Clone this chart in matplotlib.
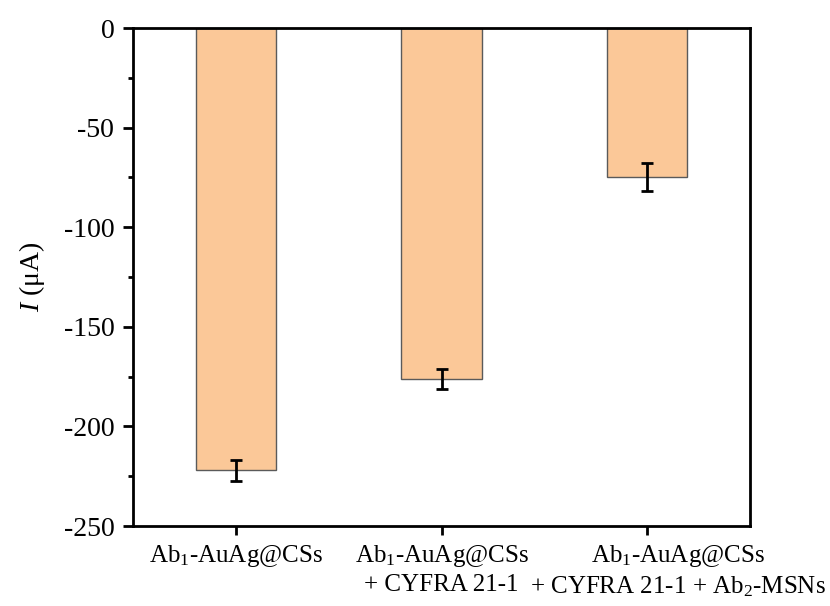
import numpy as np
import matplotlib
matplotlib.use("Agg")
import matplotlib.pyplot as plt
from matplotlib.ticker import MultipleLocator
from matplotlib.transforms import ScaledTranslation

plt.rcParams['font.family'] = ['Liberation Serif', 'DejaVu Serif']
plt.rcParams['mathtext.fontset'] = 'custom'
plt.rcParams['mathtext.rm'] = 'Liberation Serif'
plt.rcParams['mathtext.it'] = 'Liberation Serif:italic'
plt.rcParams['axes.unicode_minus'] = False

# data
labels = ['Ab$_1$-AuAg@CSs',
          'Ab$_1$-AuAg@CSs\n+ CYFRA 21-1',
          'Ab$_1$-AuAg@CSs\n+ CYFRA 21-1 + Ab$_2$-MSNs']
current = [-222, -176, -75]
err = [5.3, 5, 7]

fig = plt.figure(figsize=(8.3, 6.06), dpi=100)
ax = fig.add_axes([133/830, 1 - 526/606, 617/830, 498/606])

x = np.arange(len(labels))
ax.bar(x, current, width=0.39, color='#FBC898', edgecolor='#5a5a5a', linewidth=1.0, zorder=2)
ax.errorbar(x, current, yerr=err, fmt='none', ecolor='black', elinewidth=2,
            capsize=4.5, capthick=2, zorder=3)

ax.set_xlim(-0.5, 2.5)
ax.set_ylim(-250, 0)
ax.set_xticks(x)
ax.set_xticklabels(labels, fontsize=18, linespacing=1.25)
ax.yaxis.set_major_locator(MultipleLocator(50))
ax.yaxis.set_minor_locator(MultipleLocator(25))
ax.tick_params(axis='y', which='major', labelsize=20, length=7.5, width=2, direction='out', pad=6)
ax.tick_params(axis='y', which='minor', length=3.5, width=2, direction='out')
ax.tick_params(axis='x', which='major', length=6.5, width=2, direction='out', pad=6)
ax.set_ylabel('$I$ (μA)', fontsize=20, labelpad=12)

# third label sits to the right of its tick in the original
lab3 = ax.get_xticklabels()[2]
lab3.set_transform(lab3.get_transform() + ScaledTranslation(0.31, 0, fig.dpi_scale_trans))

for s in ax.spines.values():
    s.set_linewidth(2)

fig.savefig('out.png', dpi=100)
